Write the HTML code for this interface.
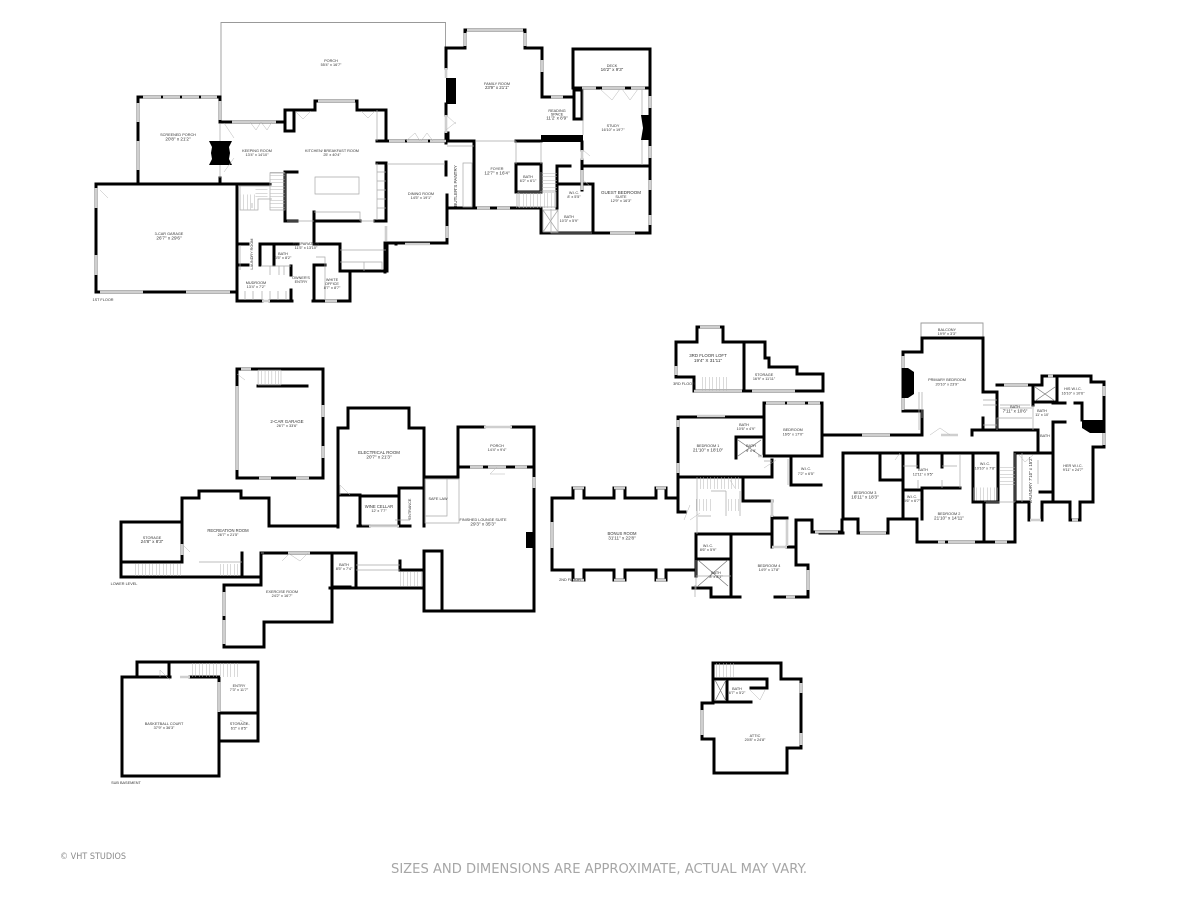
<!DOCTYPE html>
<html><head><meta charset="utf-8"><style>
html,body{margin:0;padding:0;background:#fff;width:1200px;height:900px;overflow:hidden}
svg{display:block;filter:blur(.25px)}
text{font-family:"Liberation Sans",sans-serif;font-size:3.8px;fill:#333;text-anchor:middle}
.w{fill:none;stroke:#000;stroke-width:3;stroke-linecap:square;stroke-linejoin:miter}
.g{fill:none;stroke:#cfcfcf;stroke-width:2.6}
.t{fill:none;stroke:#a8a8a8;stroke-width:.7}
.d{fill:none;stroke:#b5b5b5;stroke-width:.5}
.b{fill:#000}
</style></head><body>
<svg width="1200" height="900" viewBox="0 0 1200 900" xmlns="http://www.w3.org/2000/svg">
<!-- thin outlines -->
<path class="t" style="stroke:#999;stroke-width:.9" d="M221 122V22.5H445.5V48M921 338V323H983V338"/>

<!-- WALLS -->
<path class="w" d="
M138 97H220V122M138 97V183M220 178V183
M96 184H270M96 184V292H237M237 184V301H262M270 301H292M313 301H350V272
M220 122H285M285 110V131H294V110M285 110H315V101H357V110H386V141H377
M386 163H377M386 163V221H375
M285 172H297M285 172V221H297M314 212V244M314 265V301M314 221H360M314 244H340V271H387V243
M238 244H248M260 244H298M260 244V265M274 244V265M238 265H248M291 266V275M291 290V301M314 265H325
M387 243H396V244
M380 141H448V133M446 48V68M446 104V115M446 133V143
M446 162V175M447 195V243H385V272
M446 48H465V30H525V48H542V97H573M542 48V60M574 90V119H582V90H574
M573 49H650V233H541V208M573 49V88H650
M448 141H474V208M516 141H541M448 208H540
M516 164V192H541V164H516
M557 166H570M557 166V208M558 184H593V233M583 166H650M582 142V150M582 160V190
M678 417H763M764 403H822V455M764 403V456H822M736 437V458M736 437H763M678 417V512H685M678 477H772V460M772 517V547M787 547H796V520H812V532H842V520
M743 478V501H772M791 458V485H821M822 435H843M843 453V519H858V533H888V519H917V542H1015V453H1052M820 533H843
M696 534H772M731 534V597H711V588H693M696 534V576M696 559H731M731 597H740M775 597H808V565H796V520M772 518H787
M822 435H922V411H903V352H922V338H983V392H997M983 418V430M997 392V430M997 385H1042V376H1057H1091V382H1104V447H1093V502H1080V520M1070 520V502H1053V422H1065
M1053 502H1042V520M1029 520V502H1017M972 430V435M972 430H1038V453M843 453H998V502H973V453M973 502H985M984 502V542
M880 453V480H903M903 453V519M922 490V519M903 490H922M1033 385V405M1057 376V402H1033V387M1040 492H1052
M1053 403H1065M1070 520H1080M1075 403H1082V420M918 453V467M942 453V467M922 488H960
M676 342H697V327H723V342H765V358H769V367H797V374H823V391H694V377H676V342M744 342V391
M552 498H573V488H584V498H614V488H625V498H656V488H666V498H678M552 498V570H573V580H584V570H614V580H625V570H656V580H666V570H695
M237 369H323V478H237V369M258 386H307
M121 522H182M121 522V577H260M121 562H182M182 498V562M182 498H199V491H241V498H269V526H338M242 553V577
M261 553H332M261 553V585H224V647H264V622H332V553M332 587H350
M338 428H348V408H409V428H424V526M338 428V527M338 495H360V526M360 496H399M399 488V526M399 488H424M358 526H369M399 526H410
M424 477H458V427H484M512 427H534V611H424V551H442V611M400 570H424M400 561V570M330 588H424V570M356 553V588M330 553H356
M458 467H534
M122 677V776H219V677H190M122 677H137V662H258V741H219M169 662V677M219 713H258M137 677H170
M713 663V703H702V739H714V773H787V748H801V679H781V663H713M713 679H752M713 702H751M727 679V702M751 688H767M752 679H767V688
"/>
<!-- windows and openings -->
<path class="g" d="
M143 97H161M163 97H180M182 97H199M201 97H217
M138 103V122M138 141V170M220 101V120M232 122H276
M318 101H355M96 188V208M96 255V275M100 292H143M186 292H230M262 301H270M325 301H337
M389 141H405M407 141H428M430 141H446M386 226V241M405 244H430M447 226V238
M446 68V78M446 115V133M467 30H523M465 33V46M525 33V46M542 60V72M551 97H563
M582 88H596M602 88H625M631 88H645M650 96V108M650 146V158M582 150V160M582 170V190
M477 208H490M497 208H510M650 180V190M650 215V225M610 233H635
M697 416H725M766 403H785M787 403H805M808 403H820M678 420V427M678 463V473M772 499V517
M552 522V548M573 488H584M614 488H625M656 488H666M573 580H584M614 580H625M656 580H666
M786 597H795M808 570V590M815 532H838M758 456H763M787 520V546M772 547H787
M700 327H720M676 366V375M694 391H742M752 391H795
M237 386V470M323 405V417M323 446V458M259 478H271M296 478H309M241 369H251
M224 592V616M224 620V644M288 553H310M182 544V555
M470 467H483M488 467H506M515 467H527M534 477V488M484 427H512M369 526H399
M219 682V712M180 677H190
M801 683V693M801 733V745M702 710V735
M903 356V368M903 398V410M1004 385H1028M1048 376H1053M1104 386V396M1104 433V445
M862 435H890M941 435H958M938 542H945M948 542H975M995 542H1007M860 533H886
M1030 520H1041M1072 520H1078
"/>
<!-- solid fills -->
<path class="b" d="M209 141H232L229 147 230 153 229 159 232 165H209L212 159 211 153 212 147Z
M446 78H456V104H446ZM541 135H583V142H541ZM641 115H650V140H641L643 128ZM526 532H534V548H526ZM903 368H908L914 372V394L908 398H903ZM1082 420H1104V433H1090L1082 428Z"/>
<!-- inner/fixture lines -->
<path class="t" d="
M220 124V141M220 165V178
M238 186H270V199H258V210H240V186M270 173H285V210H270V173M264 199H272
M315 177H359V194H315ZM377 110V141M377 163V220M314 212H360V221M377 172H386M377 181H386M377 190H386M377 199H386M377 208H386
M387 164H445M287 221H314M360 221H375M447 146H474M476 141H516M516 141V164M541 142V164
M316 257H325V300M340 250H386M340 262H382V270M364 262V271
M252 203V208M240 245V270M261 266H291M270 266V275M279 266V275M284 266V275M245 291V300M253 291V300M262 291V300M270 291V300M278 291V300M286 291V300
M463 163H472V207H463ZM583 88V135M642 90V115M642 140V165
M518 192H556V207H518ZM541 172V192
M543 210H558V232H543ZM543 210L558 232M558 210L543 232
M551 209V233H592
M425 479H459V523H425ZM425 479H447V516H425
M395 520H410M362 525H398M356 565H400M356 570H400
M199 562H242M264 553H261
M697 477V534M698 516H711M711 491H726M726 491V516M740 491V516
M695 585V597M696 576H731M696 560V590
M1015 453V502M1022 453V502M1038 460V484M764 461H772M788 459V485
M919 430V392M922 418V392M983 425H997M983 400H997M983 405H997
M997 430V418H1032M1030 405H1000M1033 405V430
M903 466H918M942 466H957M960 455V488M918 480V488M942 480V488
M986 502H1015M985 500V502
M1000 408H1032
"/>
<!-- stairs -->
<path class="d" d="M258 370H281V385H258Z"/>
<path style="fill:none;stroke:#b5b5b5;stroke-width:15;stroke-dasharray:.5 2.9" d="M258 377.5H281"/>
<path style="fill:none;stroke:#b5b5b5;stroke-width:12;stroke-dasharray:.5 3" d="M135 570H183M220 570H241"/>
<path style="fill:none;stroke:#b5b5b5;stroke-width:15;stroke-dasharray:.5 3" d="M277 172V210M240 202H256M549.5 173V193"/>
<path style="fill:none;stroke:#b5b5b5;stroke-width:15;stroke-dasharray:.5 3" d="M516 200.500H557"/>
<path style="fill:none;stroke:#b5b5b5;stroke-width:12;stroke-dasharray:.5 3" d="M696 505H711M728 505H742M261.5 186V198"/>
<path style="fill:none;stroke:#b5b5b5;stroke-width:14;stroke-dasharray:.5 3" d="M702 384H728"/>
<path style="fill:none;stroke:#b5b5b5;stroke-width:12;stroke-dasharray:.5 3" d="M700 483H740"/>
<path style="fill:none;stroke:#b5b5b5;stroke-width:13;stroke-dasharray:.5 3" d="M973 494H1000"/>
<path style="fill:none;stroke:#b5b5b5;stroke-width:15;stroke-dasharray:.5 3" d="M1007.5 467V487"/>
<path style="fill:none;stroke:#b5b5b5;stroke-width:14;stroke-dasharray:.5 3" d="M192 670H238M400 579H424M716 670H736"/>
<!-- showers -->
<path class="t" style="stroke:#777" d="M738 440L761 456M761 440L738 456M698 560L728 586M728 560L698 586M715 680L726 701M726 680L715 701M1035 387L1055 401M1055 387L1035 401"/>
<!-- door swings -->
<path class="d" d="M224 123L234 138M224 172L234 158M295 111L303 119L311 111M361 111L368 118L375 111M250 122L256 130L261 122M261 122L267 130L272 122M406 141L415 133L420 141M421 141L427 133L433 141M446 115L456 124M446 130L456 122M600 89L612 100L620 89M622 89L630 100L638 89M583 150L590 156M583 180L590 186M100 190L108 198M308 553L300 561L288 553M290 553L282 561M182 544L190 552M237 374L245 380M350 495L340 485L340 495M497 467L490 474L505 474M700 513L690 520M690 505L684 520M776 460L764 468M730 480L735 488M930 435L940 428L950 435M900 453L895 460M1019 455L1025 462L1033 455M170 680L160 670V677M240 720L250 725M750 690L760 700L765 690"/>

<!-- LABELS -->
<text x="331" y="62">PORCH</text><text x="331" y="65.800">55'4" x 16'7"</text>
<text x="178" y="136">SCREENED PORCH</text><text x="178" y="140.500" style="font-size:4.6px">20'8" x 21'2"</text>
<text x="257" y="152">KEEPING ROOM</text><text x="257" y="156">13'4" x 14'10"</text>
<text x="332" y="152">KITCHEN/ BREAKFAST ROOM</text><text x="332" y="156">25' x 40'4"</text>
<text x="169" y="235">3-CAR GARAGE</text><text x="169" y="239.500" style="font-size:4.6px">26'7" x 29'6"</text>
<text x="306" y="245">PREPARATION</text><text x="306" y="249">11'5" x 13'10"</text>
<text x="253" y="254" transform="rotate(-90 253 254)">LAUNDRY ROOM</text>
<text x="283" y="255">BATH</text><text x="283" y="259">6'5" x 8'2"</text>
<text x="256" y="284">MUDROOM</text><text x="256" y="288">13'4" x 7'2"</text>
<text x="301" y="279">OWNER'S</text><text x="301" y="283">ENTRY</text>
<text x="332" y="281">WHITE</text><text x="332" y="285">OFFICE</text><text x="332" y="289">8'7" x 8'7"</text>
<text x="103" y="301">1ST FLOOR</text>
<text x="497" y="85">FAMILY ROOM</text><text x="497" y="89" style="font-size:4.4px">23'9" x 21'1"</text>
<text x="557" y="112">READING</text><text x="557" y="115.500">SPACE</text><text x="557" y="119.500" style="font-size:4.6px">11'2' x 8'9"</text>
<text x="612" y="67">DECK</text><text x="612" y="71" style="font-size:4.6px">16'2" x 9'3"</text>
<text x="613" y="127">STUDY</text><text x="613" y="131">16'10" x 19'7"</text>
<text x="497" y="170">FOYER</text><text x="497" y="174.500" style="font-size:4.6px">12'7" x 16'4"</text>
<text x="528" y="178">BATH</text><text x="528" y="182">6'2" x 6'1"</text>
<text x="457" y="186" transform="rotate(-90 457 186)" style="font-size:4.6px">BUTLER'S PANTRY</text>
<text x="421" y="195">DINING ROOM</text><text x="421" y="199">14'5" x 19'1"</text>
<text x="574" y="194">W.I.C.</text><text x="574" y="198">8' x 5'5"</text>
<text x="621" y="194" style="font-size:4.5px">GUEST BEDROOM</text><text x="621" y="198">SUITE</text><text x="621" y="202">12'9" x 16'3"</text>
<text x="569" y="218">BATH</text><text x="569" y="222">10'3" x 5'9"</text>
<text x="287" y="423" style="font-size:4.4px">2-CAR GARAGE</text><text x="287" y="427">26'7" x 33'6"</text>
<text x="228" y="532" style="font-size:4.2px">RECREATION ROOM</text><text x="228" y="536">26'7" x 21'5"</text>
<text x="152" y="539">STORAGE</text><text x="152" y="543" style="font-size:4.6px">24'8" x 8'3"</text>
<text x="282" y="593">EXERCISE ROOM</text><text x="282" y="597">24'2" x 16'7"</text>
<text x="124" y="585">LOWER LEVEL</text>
<text x="344" y="566">BATH</text><text x="344" y="570">8'5" x 7'4"</text>
<text x="379" y="454" style="font-size:4.4px">ELECTRICAL ROOM</text><text x="379" y="458.500" style="font-size:4.6px">20'7" x 21'3"</text>
<text x="379" y="508" style="font-size:4.2px">WINE CELLAR</text><text x="379" y="512">12' x 7'7"</text>
<text x="411" y="509" transform="rotate(-90 411 509)">ENTRANCE</text>
<text x="438" y="500">SAFE LAW</text>
<text x="497" y="447">PORCH</text><text x="497" y="451">14'4" x 9'4"</text>
<text x="483" y="521">FINISHED LOUNGE SUITE</text><text x="483" y="525.500" style="font-size:4.6px">29'3" x 35'3"</text>
<text x="164" y="725">BASKETBALL COURT</text><text x="164" y="729">37'9" x 36'3"</text>
<text x="239" y="687">ENTRY</text><text x="239" y="691">7'3" x 11'7"</text>
<text x="239" y="725">STORAGE</text><text x="239" y="729.500">6'2" x 8'5"</text>
<text x="126" y="784">SUB BASEMENT</text>
<text x="755" y="737">ATTIC</text><text x="755" y="741">20'8" x 24'8"</text>
<text x="737" y="690">BATH</text><text x="737" y="694">6'7" x 5'2"</text>
<text x="622" y="535" style="font-size:4.2px">BONUS ROOM</text><text x="622" y="539.500" style="font-size:4.6px">31'11" x 22'8"</text>
<text x="570" y="581">2ND FLOOR</text>
<text x="708" y="357" style="font-size:4.4px">3RD FLOOR LOFT</text><text x="708" y="362" style="font-size:4.6px">19'4" X 31'11"</text>
<text x="684" y="385">3RD FLOOR</text>
<text x="764" y="376">STORAGE</text><text x="764" y="380">16'9" x 11'11"</text>
<text x="708" y="447">BEDROOM 1</text><text x="708" y="451.500" style="font-size:4.6px">21'10" x 18'10"</text>
<text x="744" y="426">BATH</text><text x="746" y="430">10'6" x 4'9"</text>
<text x="751" y="447">BATH</text><text x="751" y="452">9' x 9'</text>
<text x="793" y="431">BEDROOM</text><text x="793" y="435.500">16'6" x 17'0"</text>
<text x="806" y="470">W.I.C.</text><text x="806" y="475">7'2" x 6'5"</text>
<text x="708" y="547">W.I.C.</text><text x="708" y="551">8'6" x 5'9"</text>
<text x="716" y="574">BATH</text><text x="716" y="578">8' x 8'1"</text>
<text x="769" y="567">BEDROOM 4</text><text x="769" y="571">14'9" x 17'8"</text>
<text x="947" y="381">PRIMARY BEDROOM</text><text x="947" y="385.500">20'10" x 23'9"</text>
<text x="947" y="331">BALCONY</text><text x="947" y="335">19'9" x 3'3"</text>
<text x="1015" y="408">BATH</text><text x="1015" y="412.500" style="font-size:4.6px">7'11" x 10'6"</text>
<text x="1042" y="412">BATH</text><text x="1042" y="416">11' x 10'</text>
<text x="1073" y="390">HIS W.I.C.</text><text x="1073" y="394.500">16'10" x 10'6"</text>
<text x="1045" y="437">BATH</text>
<text x="1073" y="467">HER W.I.C.</text><text x="1073" y="471">9'11" x 24'7"</text>
<text x="1032" y="480" transform="rotate(-90 1032 480)" style="font-size:4.4px">LAUNDRY 7'10" x 15'2"</text>
<text x="985" y="465">W.I.C.</text><text x="985" y="469.500">10'10" x 7'8"</text>
<text x="865" y="494">BEDROOM 3</text><text x="865" y="498.500" style="font-size:4.6px">16'11" x 18'3"</text>
<text x="923" y="471">BATH</text><text x="923" y="475.500">12'11" x 9'5"</text>
<text x="912" y="498">W.I.C.</text><text x="912" y="502">5'6" x 6'7"</text>
<text x="949" y="515">BEDROOM 2</text><text x="949" y="519.500" style="font-size:4.6px">21'10" x 14'11"</text>

<text x="60" y="859" style="font-family:'DejaVu Sans',sans-serif;font-size:9px;fill:#8a8a8a;text-anchor:start" textLength="66" lengthAdjust="spacingAndGlyphs">© VHT STUDIOS</text>
<text x="391" y="873" style="font-family:'DejaVu Sans',sans-serif;font-size:13px;fill:#a6a6a6;text-anchor:start" textLength="416" lengthAdjust="spacingAndGlyphs">SIZES AND DIMENSIONS ARE APPROXIMATE, ACTUAL MAY VARY.</text>
</svg>
</body></html>
